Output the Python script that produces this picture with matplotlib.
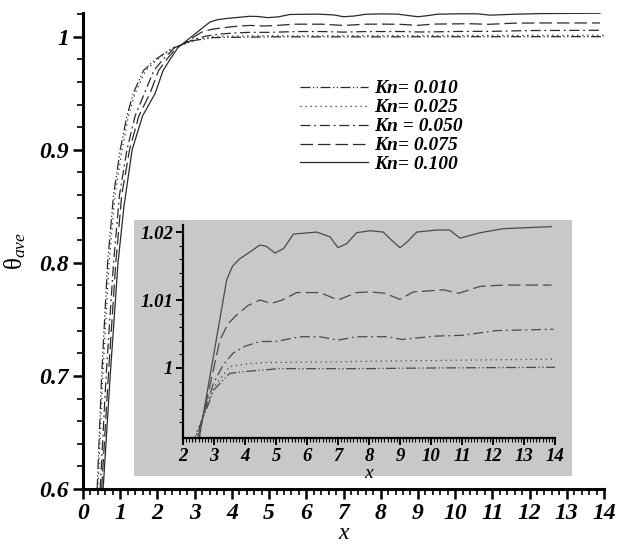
import numpy as np
import matplotlib
matplotlib.use("Agg")
import matplotlib.pyplot as plt
from matplotlib.patches import Rectangle
from matplotlib.ticker import MultipleLocator, FixedLocator, FormatStrFormatter

plt.rcParams['font.family'] = ['Liberation Serif', 'DejaVu Serif']
plt.rcParams['font.style'] = 'italic'
plt.rcParams['font.weight'] = 'bold'
plt.rcParams['mathtext.fontset'] = 'custom'
plt.rcParams['mathtext.rm'] = 'Liberation Serif:weight=normal:style=normal'
plt.rcParams['mathtext.it'] = 'Liberation Serif:weight=normal:style=italic'

LINE = '#2a2a2a'

# Kn = 0.010 (dash-dot-dot)
x_010 = [0.38, 0.50, 0.66, 0.82, 1.00, 1.18, 1.35, 1.62, 1.95, 2.40, 3.00, 3.50, 4.05, 5.10, 7.80, 10.0, 13.89, 14.0]
y_010 = [0.60, 0.70, 0.80, 0.86, 0.90, 0.93, 0.95, 0.97, 0.98, 0.9898, 0.9968, 0.9992, 0.9995, 0.9999, 0.9999,
         1.0000, 1.0001, 1.0001]

# Kn = 0.025 (dotted)
x_025 = [0.40, 0.53, 0.70, 0.86, 1.05, 1.22, 1.40, 1.68, 2.00, 2.40, 3.00, 3.50, 4.05, 4.60, 6.74, 10.0, 13.84, 14.0]
y_025 = [0.60, 0.70, 0.80, 0.86, 0.90, 0.93, 0.95, 0.97, 0.98, 0.9900, 0.9972, 1.0002, 1.0006, 1.0008, 1.0009,
         1.0011, 1.0013, 1.0013]

# Kn = 0.050 (dash-dot)
x_050 = [0.46, 0.62, 0.82, 0.98, 1.18, 1.40, 1.65, 1.90, 2.15, 2.45, 2.98, 3.30, 3.62, 4.00, 4.48, 5.00, 5.77,
         6.42, 7.00, 7.60, 8.60, 9.05, 10.2, 11.0, 12.1, 13.95]
y_050 = [0.60, 0.70, 0.80, 0.86, 0.90, 0.93, 0.95, 0.97, 0.98, 0.9900, 0.9977, 1.0005, 1.0022, 1.0032, 1.0039,
         1.0039, 1.0046, 1.0046, 1.0041, 1.0046, 1.0046, 1.0042, 1.0047, 1.0048, 1.0055, 1.0057]

# Kn = 0.075 (dashed)
x_075 = [0.50, 0.68, 0.88, 1.04, 1.25, 1.50, 1.80, 2.03, 2.25, 2.50, 2.80, 3.19, 3.45, 3.73, 4.10, 4.48, 4.85,
         5.20, 5.67, 6.42, 7.00, 7.60, 8.03, 8.50, 9.00, 9.43, 10.4, 10.9, 11.58, 12.33, 13.89]
y_075 = [0.60, 0.70, 0.80, 0.86, 0.90, 0.93, 0.95, 0.97, 0.98, 0.9900, 0.9960, 1.0041, 1.0065, 1.0078, 1.0092,
         1.0100, 1.0095, 1.0100, 1.0111, 1.0111, 1.0100, 1.0111, 1.0112, 1.0110, 1.0101, 1.0112, 1.0115,
         1.0110, 1.0120, 1.0122, 1.0122]

# Kn = 0.100 (solid)
x_100 = [0.54, 0.73, 0.94, 1.10, 1.32, 1.60, 1.94, 2.15, 2.34, 2.55, 2.80, 3.09, 3.41, 3.60, 3.84, 4.20, 4.48,
         4.69, 4.97, 5.25, 5.56, 6.31, 6.74, 7.00, 7.28, 7.60, 8.03, 8.46, 8.73, 9.00, 9.22, 9.54, 10.18, 10.6,
         10.94, 11.58, 12.33, 13.89]
y_100 = [0.60, 0.70, 0.80, 0.85, 0.90, 0.93, 0.95, 0.97, 0.98, 0.9904, 0.9970, 1.0046, 1.0130, 1.0150, 1.0161,
         1.0172, 1.0181, 1.0179, 1.0169, 1.0176, 1.0197, 1.0200, 1.0193, 1.0177, 1.0183, 1.0199, 1.0202,
         1.0200, 1.0188, 1.0177, 1.0185, 1.0200, 1.0203, 1.0203, 1.0191, 1.0199, 1.0205, 1.0208]

series = [
    (x_010, y_010, (0, (8, 2, 1, 2, 1, 2)), "Kn= 0.010"),
    (x_025, y_025, (0, (1, 3)), "Kn= 0.025"),
    (x_050, y_050, (0, (8, 3, 1.5, 3)), "Kn = 0.050"),
    (x_075, y_075, (0, (10, 4)), "Kn= 0.075"),
    (x_100, y_100, '-', "Kn= 0.100"),
]

fig = plt.figure(figsize=(6.21, 5.44), dpi=100)
ax = fig.add_axes([0.1337, 0.1011, 0.8389, 0.875])

for xs, ys, ls, lab in series:
    ax.plot(xs, ys, linestyle=ls, color=LINE, lw=0.9, label=lab)

ax.set_xlim(0, 14)
ax.set_ylim(0.6, 1.021)
for s in ['top', 'right']:
    ax.spines[s].set_visible(False)
for s in ['left', 'bottom']:
    ax.spines[s].set_linewidth(2.2)
ax.xaxis.set_major_locator(MultipleLocator(1))
ax.xaxis.set_minor_locator(MultipleLocator(0.2))
ax.yaxis.set_major_locator(MultipleLocator(0.1))
ax.yaxis.set_minor_locator(MultipleLocator(0.02))
ax.yaxis.set_major_formatter(FormatStrFormatter('%g'))
ax.tick_params(which='major', length=7, width=1.8, labelsize=17, pad=3)
ax.tick_params(which='minor', length=4, width=1.2)
ax.set_xlabel('x', fontsize=17, labelpad=-1)
ax.set_ylabel(r'$\mathrm{\theta}_{\mathit{ave}}$', fontsize=18, labelpad=8)

leg = ax.legend(loc='upper left', bbox_to_anchor=(0.402, 0.876), frameon=False,
                fontsize=14, handlelength=3.5, handletextpad=0.3, labelspacing=0.07,
                borderaxespad=0)

# inset panel
fig.patches.append(Rectangle((0.2158, 0.125), 0.705, 0.4706, transform=fig.transFigure,
                             facecolor='#c8c8ca', edgecolor='none', zorder=2))
axi = fig.add_axes([0.2947, 0.1949, 0.599, 0.391])
axi.set_zorder(3)
axi.patch.set_visible(False)
for xs, ys, ls, lab in series:
    axi.plot(xs, ys, linestyle=ls, color='#4a4a4a', lw=0.9)
axi.set_xlim(2, 14)
axi.set_ylim(0.9897, 1.021)
for s in ['top', 'right']:
    axi.spines[s].set_visible(False)
for s in ['left', 'bottom']:
    axi.spines[s].set_linewidth(1.6)
axi.xaxis.set_major_locator(MultipleLocator(1))
axi.xaxis.set_minor_locator(MultipleLocator(0.1))
axi.yaxis.set_major_locator(FixedLocator([1.0, 1.01, 1.02]))
axi.yaxis.set_minor_locator(FixedLocator([0.992, 0.994, 0.996, 0.998, 1.002, 1.004, 1.006, 1.008,
                                          1.012, 1.014, 1.016, 1.018]))
axi.yaxis.set_major_formatter(FormatStrFormatter('%g'))
axi.tick_params(which='major', length=5, width=1.4, labelsize=13.5, pad=2)
axi.tick_params(which='minor', length=3, width=0.8)
axi.set_xlabel('x', fontsize=14, labelpad=0)

fig.savefig('out.png', dpi=100)
